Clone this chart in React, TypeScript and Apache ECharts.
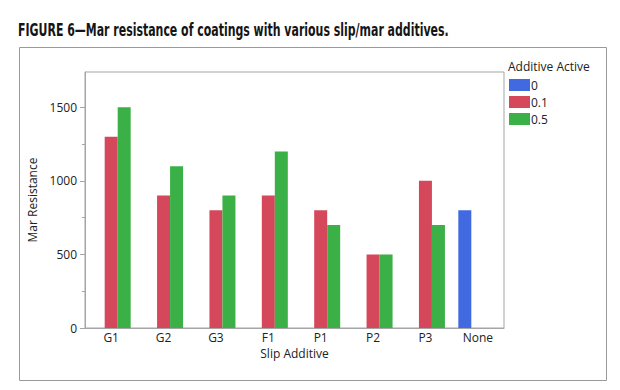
import React, { useEffect, useRef } from "react";
import * as echarts from "echarts";

const TITLE = "FIGURE 6\u2014Mar resistance of coatings with various slip/mar additives.";
const categories = ["G1", "G2", "G3", "F1", "P1", "P2", "P3", "None"];
const seriesNames = ["0", "0.1", "0.5"];
const values0 = [null, null, null, null, null, null, null, 800];
const values01 = [1300, 900, 800, 900, 800, 500, 1000, null];
const values05 = [1500, 1100, 900, 1200, 700, 500, 700, null];
const colors = ["#4169e0", "#d5485b", "#3bb047"];
const majorTicks = [0, 500, 1000, 1500];
const minorTicks = [250, 750, 1250];

const FONT = "'Open Sans', 'Noto Sans', sans-serif";
const TITLE_FONT = "bold 17px 'Liberation Sans Narrow', 'DejaVu Sans Condensed', sans-serif";

export default function App() {
  const ref = useRef<HTMLDivElement>(null);
  useEffect(() => {
    if (!ref.current) return;
    const chart = echarts.init(ref.current, null, { renderer: "svg" });
    let scaleX = 1;
    try {
      const c = document.createElement("canvas").getContext("2d");
      if (c) {
        c.font = TITLE_FONT;
        const w = c.measureText(TITLE).width;
        if (w > 0) scaleX = 431 / w;
      }
    } catch (e) {}
    const data = [values0, values01, values05];
    chart.setOption({
      animation: false,
      backgroundColor: "#ffffff",
      grid: {
        left: 85,
        top: 72,
        right: 116,
        bottom: 62,
        show: true,
        borderColor: "#a5a5a5",
        borderWidth: 1,
        backgroundColor: "transparent",
      },
      legend: {
        orient: "vertical",
        left: 509,
        top: 79,
        padding: 0,
        itemWidth: 21,
        itemHeight: 12,
        itemGap: 5,
        icon: "rect",
        data: seriesNames,
        selectedMode: false,
        textStyle: { fontFamily: FONT, fontSize: 12, color: "#222", padding: [0, 0, 0, -4] },
      },
      xAxis: {
        type: "category",
        data: categories,
        name: "Slip Additive",
        nameLocation: "middle",
        nameGap: 17,
        nameTextStyle: { fontFamily: FONT, fontSize: 12, color: "#222" },
        axisLine: { lineStyle: { color: "#a5a5a5" } },
        axisTick: { show: false },
        axisLabel: { margin: 3, fontFamily: FONT, fontSize: 12, color: "#222" },
      },
      yAxis: [
        {
          type: "value",
          min: 0,
          max: 1740,
          interval: 500,
          name: "Mar Resistance",
          nameLocation: "middle",
          nameGap: 33,
          nameTextStyle: { fontFamily: FONT, fontSize: 12, color: "#222" },
          axisLine: { show: true, lineStyle: { color: "#a5a5a5" } },
          axisTick: { show: true, length: 5, lineStyle: { color: "#a5a5a5" }, customValues: majorTicks },
          axisLabel: {
            margin: 8,
            fontFamily: FONT,
            fontSize: 12,
            color: "#222",
            customValues: majorTicks,
            formatter: (v: number) => (v % 500 === 0 ? String(v) : ""),
          },
          splitLine: { show: false },
        },
        {
          type: "value",
          min: 0,
          max: 1740,
          interval: 250,
          position: "left",
          axisLine: { show: false },
          axisTick: { show: true, length: 3, lineStyle: { color: "#a5a5a5" }, customValues: minorTicks },
          axisLabel: { show: false },
          splitLine: { show: false },
        },
      ],
      series: seriesNames.map((n, i) => ({
        name: n,
        type: "bar",
        data: data[i],
        barWidth: 13,
        barGap: "0%",
        itemStyle: { color: colors[i] },
      })),
      graphic: [
        {
          type: "rect",
          shape: { x: 19.5, y: 47.5, width: 587, height: 333 },
          style: { fill: "none", stroke: "#9a9a9a", lineWidth: 1 },
          silent: true,
        },
        {
          type: "text",
          x: 18,
          y: 21,
          scaleX: scaleX,
          style: { text: TITLE, font: TITLE_FONT, fill: "#151515", textVerticalAlign: "top" },
        },
        {
          type: "text",
          x: 508,
          y: 66,
          style: {
            text: "Additive Active",
            font: "12px " + FONT,
            fill: "#222",
            textVerticalAlign: "middle",
          },
        },
      ],
    });
    return () => chart.dispose();
  }, []);
  return <div ref={ref} style={{ width: 620, height: 390, position: "absolute", left: 0, top: 0 }} />;
}
